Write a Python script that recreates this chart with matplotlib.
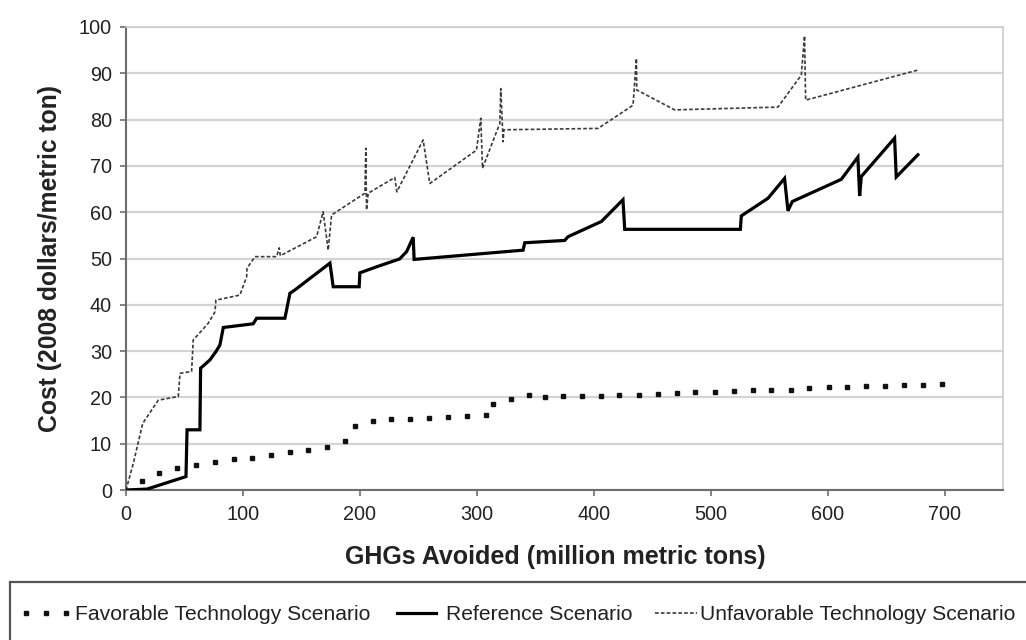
import matplotlib as mpl
mpl.use('Agg')
import matplotlib.pyplot as plt
from matplotlib.lines import Line2D
from matplotlib.patches import Rectangle
from matplotlib.legend_handler import HandlerLine2D

# Favorable Technology Scenario (dots)
fav_x = [14, 28.5, 44, 60, 76, 92, 108, 124, 140, 156,
         172, 187, 196, 211, 227, 243, 259, 275.5, 292, 308,
         314, 329, 345, 358, 374, 390, 406.5, 422, 439, 455,
         471, 487, 503.5, 520, 536, 552, 568.5, 584.5, 601, 617,
         633, 649, 665, 681.5, 698]
fav_y = [2.0, 3.7, 4.8, 5.5, 6.1, 6.6, 7.0, 7.6, 8.1, 8.6,
         9.2, 10.5, 13.9, 14.9, 15.3, 15.4, 15.6, 15.8, 15.9, 16.1,
         18.6, 19.7, 20.5, 20.0, 20.2, 20.2, 20.4, 20.5, 20.6, 20.7,
         20.9, 21.1, 21.2, 21.3, 21.5, 21.7, 21.7, 22.0, 22.2, 22.2,
         22.4, 22.5, 22.7, 22.7, 23.0]

# Reference Scenario (solid)
ref_x = [0, 18, 51.3, 52.2, 63.2, 63.8, 71.8, 76.9, 80.3, 83.2,
         108.8, 111.7, 135.9, 140.2, 144.4, 157.3, 174.4, 177.2, 199.4, 200,
         214.2, 234, 240, 245.6, 246.4, 339.6, 341, 375.2, 378, 406.6,
         425, 426.5, 525.4, 526.2, 549, 563.2, 566.1, 569.8, 611.7, 625.9,
         627.4, 628.8, 657.3, 658.7, 677.2]
ref_y = [0, 0.2, 2.9, 13.0, 13.0, 26.3, 28.1, 29.9, 31.3, 35.1,
         35.9, 37.1, 37.1, 42.5, 43.2, 45.7, 49.0, 43.9, 43.9, 46.9,
         48.2, 49.9, 51.5, 54.6, 49.8, 51.8, 53.4, 53.9, 54.7, 58.0,
         62.7, 56.3, 56.3, 59.2, 63.0, 67.3, 60.3, 62.3, 67.1, 71.9,
         63.5, 67.7, 76.0, 67.6, 72.4]

# Unfavorable Technology Scenario (dashed)
unf_x = [0, 6.3, 14.3, 27.6, 44.7, 46.2, 56.1, 57.5, 70.3, 76.1,
         76.9, 97.4, 103.2, 103.5, 110.3, 128.8, 131, 132, 163, 168.6,
         172.9, 175.8, 204.3, 205.1, 205.7, 207.1, 229.9, 231.6, 254.1, 259.8,
         299.7, 303.4, 304.9, 319.7, 320.5, 322.5, 323.1, 403.7, 433.6, 436.5,
         436.8, 469.2, 557.5, 577.5, 580.3, 581.2, 677.2]
unf_y = [0, 5.8, 14.4, 19.4, 20.2, 25.2, 25.6, 32.4, 36.0, 38.5,
         41.0, 42.1, 46.1, 47.9, 50.4, 50.4, 52.3, 50.6, 54.7, 60.1,
         51.8, 59.4, 64.1, 73.8, 60.5, 64.1, 67.5, 64.4, 75.6, 66.2,
         73.4, 80.3, 69.5, 79.2, 86.7, 75.2, 77.8, 78.1, 83.1, 93.2,
         86.4, 82.1, 82.7, 89.6, 98.1, 84.2, 90.7]

labels = ['Favorable Technology Scenario', 'Reference Scenario',
          'Unfavorable Technology Scenario']
xticks = [0, 100, 200, 300, 400, 500, 600, 700]
yticks = [0, 10, 20, 30, 40, 50, 60, 70, 80, 90, 100]

plt.rcParams['font.family'] = ['Liberation Sans', 'DejaVu Sans']

fig = plt.figure(figsize=(10.26, 6.4), dpi=100)
ax = fig.add_axes([126/1026, 1-490/640, 877/1026, 463/640])

unf_style = dict(color='#3a3a3a', linewidth=1.2, linestyle=(0, (2.2, 1.3)))
ref_style = dict(color='black', linewidth=2.3)
fav_style = dict(linestyle='none', marker='s', markersize=3, color='#111111')

ax.plot(unf_x, unf_y, zorder=3, **unf_style)
ax.plot(ref_x, ref_y, solid_joinstyle='miter', zorder=4, **ref_style)
ax.plot(fav_x, fav_y, zorder=5, **fav_style)

ax.set_xlim(0, 750)
ax.set_ylim(0, 100)
ax.set_xticks(xticks)
ax.set_yticks(yticks)
ax.grid(axis='y', color='#d4d4d4', linewidth=1.6)
ax.set_axisbelow(True)

for s in ['top', 'right']:
    ax.spines[s].set_color('#cccccc')
    ax.spines[s].set_linewidth(1.2)
for s in ['left', 'bottom']:
    ax.spines[s].set_color('#6e6e6e')
    ax.spines[s].set_linewidth(1.5)

ax.tick_params(axis='both', labelsize=14.3, color='#6e6e6e', width=1.2, length=4,
               labelcolor='#222222')
ax.tick_params(axis='y', pad=6)
ax.tick_params(axis='x', pad=7)

ax.set_xlabel('GHGs Avoided (million metric tons)', fontsize=18, fontweight='bold',
              color='#222222', va='center')
ax.set_ylabel('Cost (2008 dollars/metric ton)', fontsize=17.8, fontweight='bold',
              color='#222222', va='center')
ax.xaxis.set_label_coords(0.49, -(557-490)/463)
ax.yaxis.set_label_coords(-(126-50)/877, 0.5)

# legend box, runs past the right and bottom edges
fig.add_artist(Rectangle((10/1026, -0.2), 1.2, 0.2 + 1-582/640, transform=fig.transFigure,
                         facecolor='none', edgecolor='#555555', linewidth=1.6))

# one legend per entry so each sits where the reference has it
handles = [Line2D([], [], **fav_style), Line2D([], [], **ref_style), Line2D([], [], **unf_style)]
starts = [26, 397, 655]
hlens = [1.9, 1.85, 2.0]
tpads = [0.42, 0.47, 0.14]
for h, lab, x0, hl, tp in zip(handles, labels, starts, hlens, tpads):
    fig.legend([h], [lab], loc='center left', bbox_to_anchor=(x0/1026, 1-615/640),
               numpoints=3, frameon=False, fontsize=15.2, handlelength=hl,
               handletextpad=tp, borderpad=0, borderaxespad=0, labelcolor='#222222',
               handler_map={h: HandlerLine2D(marker_pad=0)})

fig.savefig('out.png', dpi=100)
plt.close()
